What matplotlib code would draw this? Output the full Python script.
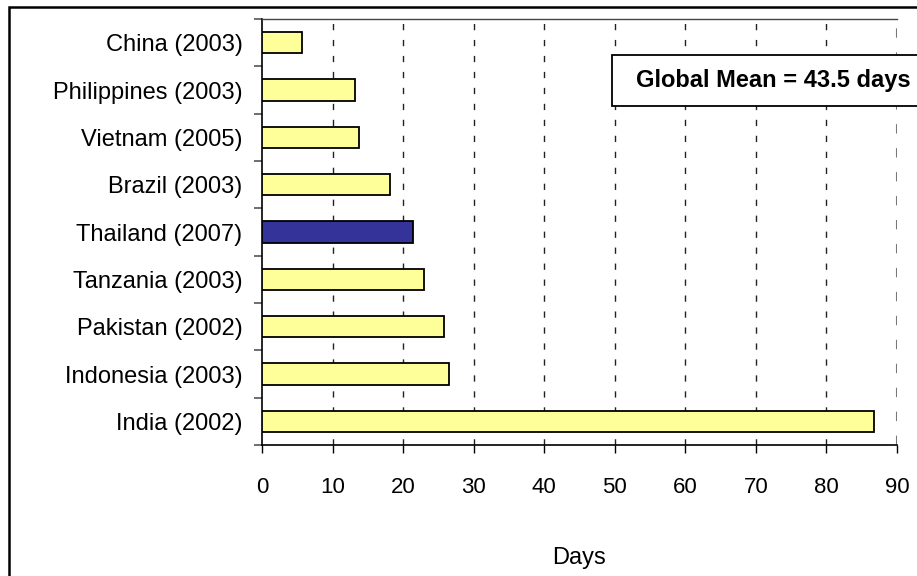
import matplotlib
matplotlib.use("Agg")
import matplotlib.pyplot as plt
from matplotlib.patches import Rectangle
from matplotlib.ticker import FixedLocator, NullFormatter

plt.rcParams['font.family'] = ['Liberation Sans', 'DejaVu Sans']

# Average days, by country (survey year)
countries = ["China (2003)", "Philippines (2003)", "Vietnam (2005)", "Brazil (2003)",
             "Thailand (2007)", "Tanzania (2003)", "Pakistan (2002)",
             "Indonesia (2003)", "India (2002)"]
days = [5.6, 13.2, 13.7, 18.1, 21.4, 23.0, 25.8, 26.5, 86.7]
highlight = "Thailand (2007)"
global_mean = 43.5
x_ticks = [0, 10, 20, 30, 40, 50, 60, 70, 80, 90]

W, H = 917, 576
fig = plt.figure(figsize=(W / 100, H / 100), dpi=100)
ax = fig.add_axes([262 / W, 1 - 445 / H, (897 - 262) / W, (445 - 19) / H])

pos = list(range(len(countries)))
colors = ["#333399" if c == highlight else "#FFFF99" for c in countries]
ax.barh(pos, days, height=0.45, color=colors, edgecolor="black", linewidth=1.3, zorder=3)

ax.set_xlim(0, 90)
ax.set_ylim(len(countries) - 0.5, -0.5)

# vertical dashed gridlines
for xv in x_ticks[1:]:
    ax.axvline(xv, color="#222222" if xv < 90 else "#777777",
               linewidth=1.0 if xv < 90 else 1.5,
               linestyle=(0, (4.5, 7)), zorder=1)

ax.set_xticks(x_ticks)
ax.set_xticklabels([str(v) for v in x_ticks], fontsize=16)
ax.tick_params(axis="x", direction="out", length=6, width=1.0, color="black", pad=17)

# category separators as major ticks, labels on minor ticks at bar centers
ax.yaxis.set_major_locator(FixedLocator([p - 0.5 for p in pos] + [len(pos) - 0.5]))
ax.yaxis.set_major_formatter(NullFormatter())
ax.yaxis.set_minor_locator(FixedLocator(pos))
ax.set_yticklabels(countries, minor=True, fontsize=17)
ax.tick_params(axis="y", which="major", direction="out", length=6, width=1.2, color="#555555")
ax.tick_params(axis="y", which="minor", length=0, pad=14)

for side in ("left", "bottom"):
    ax.spines[side].set_linewidth(1.2)
    ax.spines[side].set_color("black")
ax.spines["top"].set_linewidth(1.0)
ax.spines["top"].set_color("#444444")
ax.spines["right"].set_visible(False)

fig.text(579.5 / W, 1 - 558 / H, "Days", ha="center", va="center", fontsize=17)

# annotation box with the global mean
fig.patches.append(Rectangle((612 / W, 1 - 106 / H), 340 / W, 51 / H,
                             transform=fig.transFigure, facecolor="white",
                             edgecolor="black", linewidth=1.3, zorder=5))
fig.text(636 / W, 1 - 81 / H, f"Global Mean = {global_mean} days", ha="left", va="center",
         fontsize=17, fontweight="bold", zorder=6)

# outer chart border
fig.patches.append(Rectangle((9 / W, -0.05), 1.2, 1.05 - 7 / H,
                             transform=fig.transFigure, facecolor="none",
                             edgecolor="black", linewidth=1.8, zorder=7))

fig.savefig("out.png", dpi=100)
